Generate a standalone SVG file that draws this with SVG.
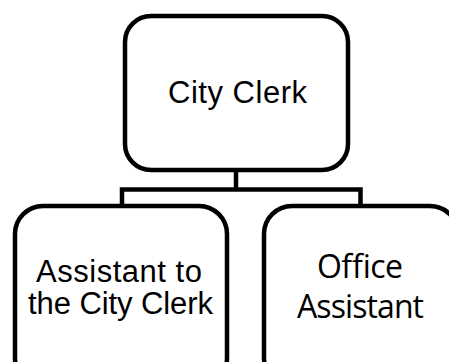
<svg xmlns="http://www.w3.org/2000/svg" width="449" height="362" viewBox="0 0 449 362">
<style>
.box{fill:#fff;stroke:#000;stroke-width:4.5}
.conn{fill:none;stroke:#000;stroke-width:4.5;stroke-linejoin:miter}
.ta{font-family:"Liberation Sans",Arial,sans-serif;font-size:31px;fill:#000;text-anchor:middle}
.tb{font-family:"Open Sans","Noto Sans",sans-serif;font-size:32px;fill:#000;text-anchor:middle}
</style>
<rect width="449" height="362" fill="#fff"/>
<g id="connectors">
<polyline class="conn" points="236,170 236,189.5"/>
<polyline class="conn" points="122,205 122,189.5 360.5,189.5 360.5,205"/>
</g>
<g id="city-clerk">
<rect class="box" x="125" y="16" width="223" height="154" rx="26"/>
<text class="ta" x="237.5" y="103" textLength="139">City Clerk</text>
</g>
<g id="assistant-to-clerk">
<rect class="box" x="15" y="206" width="212" height="180" rx="28"/>
<text class="ta" x="119" y="282" textLength="166">Assistant to</text>
<text class="ta" x="120.5" y="314" textLength="185">the City Clerk</text>
</g>
<g id="office-assistant">
<rect class="box" x="264" y="206" width="194" height="180" rx="28"/>
<text class="tb" x="360" y="278" textLength="86">Office</text>
<text class="tb" x="360.5" y="318" textLength="127">Assistant</text>
</g>
</svg>
